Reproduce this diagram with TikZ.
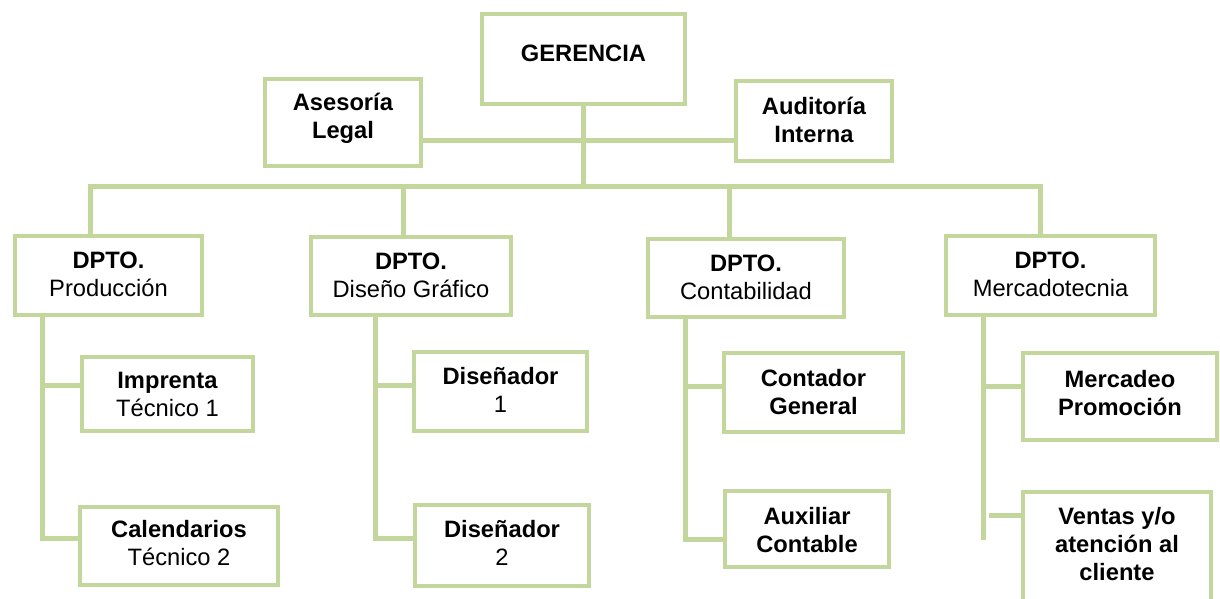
\documentclass[tikz,border=0pt]{standalone}
\usepackage{fontspec}
\setmainfont{Liberation Sans}
\usetikzlibrary{fit}
\definecolor{lg}{RGB}{195,214,155}
\begin{document}
\begin{tikzpicture}[x=0.5pt,y=-0.5pt,
  box/.style={draw=lg, line width=2pt, inner sep=0pt},
  txt/.style={font=\fontsize{11.85pt}{14pt}\selectfont, align=center, inner sep=0pt},
  conn/.style={draw=lg, line width=2.5pt}]
\useasboundingbox (0,0) rectangle (1220,599);
% boxes
\node[box, fit={(482,14) (685,104)}] (ger) {};
\node[box, fit={(265,79) (421,166)}] (ase) {};
\node[box, fit={(736,81) (892,161)}] (aud) {};
\node[box, fit={(15,236) (202,315)}] (prod) {};
\node[box, fit={(311,237) (511,315)}] (dis) {};
\node[box, fit={(648,239) (844,317)}] (con) {};
\node[box, fit={(946,236) (1155,315)}] (mer) {};
\node[box, fit={(82,357) (253,431)}] (imp) {};
\node[box, fit={(80,507) (278,585)}] (cal) {};
\node[box, fit={(414,352) (587,431)}] (dz1) {};
\node[box, fit={(415,505) (589,586)}] (dz2) {};
\node[box, fit={(724,353) (903,432)}] (cg) {};
\node[box, fit={(725,491) (889,567)}] (ac) {};
\node[box, fit={(1023,353) (1217,440)}] (mp) {};
\node[box, fit={(1023,492) (1211,640)}] (ve) {};
% texts
\node[txt] (ger-t) at (583.5,53) {\textbf{GERENCIA}};
\node[txt] (ase-t) at (343,118) {\textbf{Asesoría}\\\textbf{Legal}};
\node[txt] (aud-t) at (814,120) {\textbf{Auditoría}\\\textbf{Interna}};
\node[txt] (prod-t) at (108.5,274) {\textbf{DPTO.}\\Producción};
\node[txt] (dis-t) at (411,275.5) {\textbf{DPTO.}\\Diseño Gráfico};
\node[txt] (con-t) at (746,277) {\textbf{DPTO.}\\Contabilidad};
\node[txt] (mer-t) at (1050.5,274) {\textbf{DPTO.}\\Mercadotecnia};
\node[txt] (imp-t) at (167.5,394) {\textbf{Imprenta}\\Técnico 1};
\node[txt] (cal-t) at (179,543.5) {\textbf{Calendarios}\\Técnico 2};
\node[txt] (dz1-t) at (500.5,389.5) {\textbf{Diseñador}\\1};
\node[txt] (dz2-t) at (502,543) {\textbf{Diseñador}\\2};
\node[txt] (cg-t) at (813.5,392) {\textbf{Contador}\\\textbf{General}};
\node[txt] (ac-t) at (807,530) {\textbf{Auxiliar}\\\textbf{Contable}};
\node[txt] (mp-t) at (1120,393) {\textbf{Mercadeo}\\\textbf{Promoción}};
\node[txt] (ve-t) at (1117,544) {\textbf{Ventas y/o}\\\textbf{atención al}\\\textbf{cliente}};
% coordinates
\coordinate (h1) at (583,140);
\coordinate (b1) at (90,186);
\coordinate (b2) at (403,186);
\coordinate (b3) at (729,186);
\coordinate (b4) at (1040,186);
\coordinate (p1) at (42,385);  \coordinate (p2) at (42,538);
\coordinate (q1) at (375,385); \coordinate (q2) at (375,538);
\coordinate (r1) at (685,386); \coordinate (r2) at (685,539);
\coordinate (m1) at (983,386); \coordinate (m2) at (983,540);
\coordinate (m3) at (989,515);
% connectors
\draw[conn] (ase.east |- h1) -- (aud.west |- h1);
\draw[conn] (ger.south) -- (ger.south |- b1);
\draw[conn] (b1 |- prod.north) -- (b1) -- (b4) -- (b4 |- mer.north);
\draw[conn] (b2) -- (b2 |- dis.north);
\draw[conn] (b3) -- (b3 |- con.north);
\draw[conn] (p1 |- prod.south) -- (p2) -- (p2 -| cal.west);
\draw[conn] (p1) -- (p1 -| imp.west);
\draw[conn] (q1 |- dis.south) -- (q2) -- (q2 -| dz2.west);
\draw[conn] (q1) -- (q1 -| dz1.west);
\draw[conn] (r1 |- con.south) -- (r2) -- (r2 -| ac.west);
\draw[conn] (r1) -- (r1 -| cg.west);
\draw[conn] (m1 |- mer.south) -- (m2);
\draw[conn] (m1) -- (m1 -| mp.west);
\draw[conn] (m3) -- (m3 -| ve.west);
\end{tikzpicture}
\end{document}
